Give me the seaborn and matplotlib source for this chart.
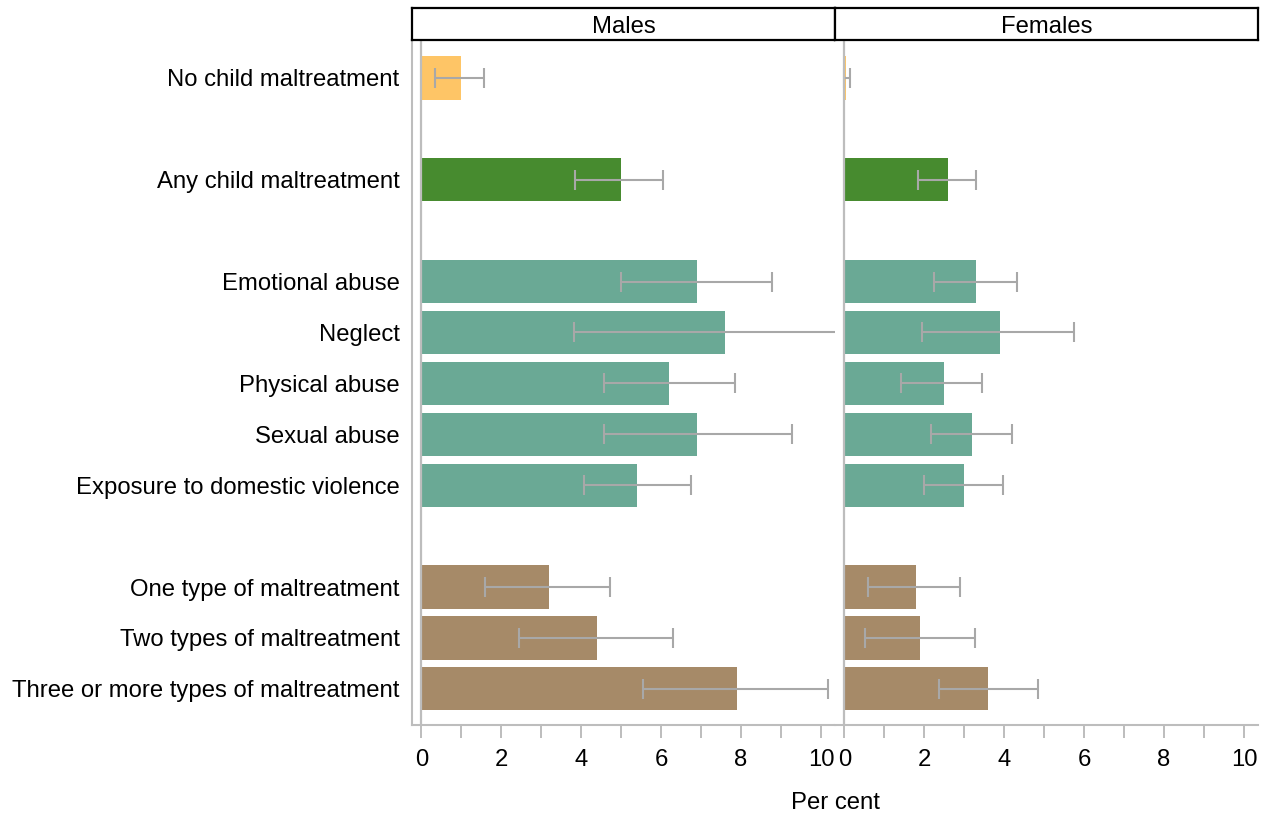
import numpy as np
import pandas as pd
import matplotlib
matplotlib.use("Agg")
import matplotlib.pyplot as plt
from matplotlib.ticker import MultipleLocator
import seaborn as sns

# ---------------- data ----------------
categories = ["No child maltreatment", "Any child maltreatment", "Emotional abuse",
              "Neglect", "Physical abuse", "Sexual abuse",
              "Exposure to domestic violence", "One type of maltreatment",
              "Two types of maltreatment", "Three or more types of maltreatment"]
groups = ["none", "any", "type", "type", "type", "type", "type",
          "count", "count", "count"]

males = [1.0, 5.0, 6.9, 7.6, 6.2, 6.9, 5.4, 3.2, 4.4, 7.9]
males_lo = [0.35, 3.85, 5.0, 3.83, 4.58, 4.58, 4.06, 1.6, 2.45, 5.54]
males_hi = [1.57, 6.05, 8.77, 11.0, 7.84, 9.27, 6.74, 4.71, 6.3, 10.18]

females = [0.05, 2.6, 3.3, 3.9, 2.5, 3.2, 3.0, 1.8, 1.9, 3.6]
females_lo = [0.0, 1.84, 2.24, 1.93, 1.42, 2.16, 1.98, 0.6, 0.52, 2.36]
females_hi = [0.15, 3.29, 4.32, 5.74, 3.45, 4.2, 3.98, 2.89, 3.27, 4.85]

panels = ["Males", "Females"]
x_ticks = [0, 2, 4, 6, 8, 10]
x_label = "Per cent"

palette = {"none": "#FEC566", "any": "#478B2F", "type": "#6AA995", "count": "#A68A68"}

# ---------------- layout helpers ----------------
pos = []
p = 0
for i, g in enumerate(groups):
    if i > 0:
        p += 2 if g != groups[i - 1] else 1
    pos.append(p)

sns.set_style("white")
plt.rcParams["font.family"] = ["Liberation Sans", "DejaVu Sans"]
plt.rcParams["text.color"] = "black"
plt.rcParams["xtick.labelcolor"] = "black"
plt.rcParams["ytick.labelcolor"] = "black"
FS = 17.2
GRAY = "#BDBDBD"
ERR = "#A8A8A8"

W, H = 1274, 818
fig = plt.figure(figsize=(W / 100, H / 100), dpi=100)

def fx(px):
    return px / W

def fy(py):
    return 1 - py / H

ax_top, ax_bot = 40, 725
lefts = [412, 835]
rights = [835, 1258]

series = [(males, males_lo, males_hi), (females, females_lo, females_hi)]

for k in range(2):
    ax = fig.add_axes([fx(lefts[k]), fy(ax_bot), fx(rights[k] - lefts[k]),
                       (ax_bot - ax_top) / H])
    vals, lo, hi = series[k]
    df = pd.DataFrame({"value": vals, "pos": pos, "group": groups})
    sns.barplot(data=df, x="value", y="pos", hue="group", palette=palette,
                orient="h", native_scale=True, width=0.85, legend=False,
                saturation=1, linewidth=0, ax=ax, zorder=2, errorbar=None)
    v = np.array(vals)
    ax.errorbar(v, pos, xerr=[v - np.array(lo), np.array(hi) - v], fmt="none",
                ecolor=ERR, elinewidth=1.5, capsize=7, capthick=1.5, zorder=4)
    ax.axvline(0, color=GRAY, lw=1.6, zorder=5)
    ax.set_xlim(-0.235, 10.35)
    ax.set_ylim(12.71, -0.745)
    ax.set_xticks(x_ticks)
    ax.xaxis.set_minor_locator(MultipleLocator(1))
    ax.tick_params(axis="x", which="both", length=9.5, width=1.4, color=GRAY,
                   labelsize=FS, pad=8, bottom=True, direction="out",
                   labelcolor="black")
    ax.set_xlabel("")
    ax.set_ylabel("")
    for s in ["top", "right"]:
        ax.spines[s].set_visible(False)
    ax.spines["bottom"].set_color(GRAY)
    ax.spines["bottom"].set_linewidth(1.5)
    if k == 0:
        ax.spines["left"].set_color(GRAY)
        ax.spines["left"].set_linewidth(1.5)
        ax.set_yticks(pos)
        ax.set_yticklabels(categories, fontsize=FS, color="black")
        ax.tick_params(axis="y", length=0, pad=9)
    else:
        ax.spines["left"].set_visible(False)
        ax.set_yticks([])
    ax.grid(False)

    # strip header
    sa = fig.add_axes([fx(lefts[k]), fy(ax_top), fx(rights[k] - lefts[k]), 32 / H])
    sa.set_xticks([])
    sa.set_yticks([])
    for s in sa.spines.values():
        s.set_color("black")
        s.set_linewidth(1.6)
    sa.set_facecolor("white")
    sa.text(0.5, 0.22, panels[k], ha="center", va="baseline", fontsize=FS,
            color="black", transform=sa.transAxes)

fig.text(fx(835), fy(803), x_label, ha="center", va="center", fontsize=FS,
         color="black")

fig.savefig("out.png", dpi=100, facecolor="white")
